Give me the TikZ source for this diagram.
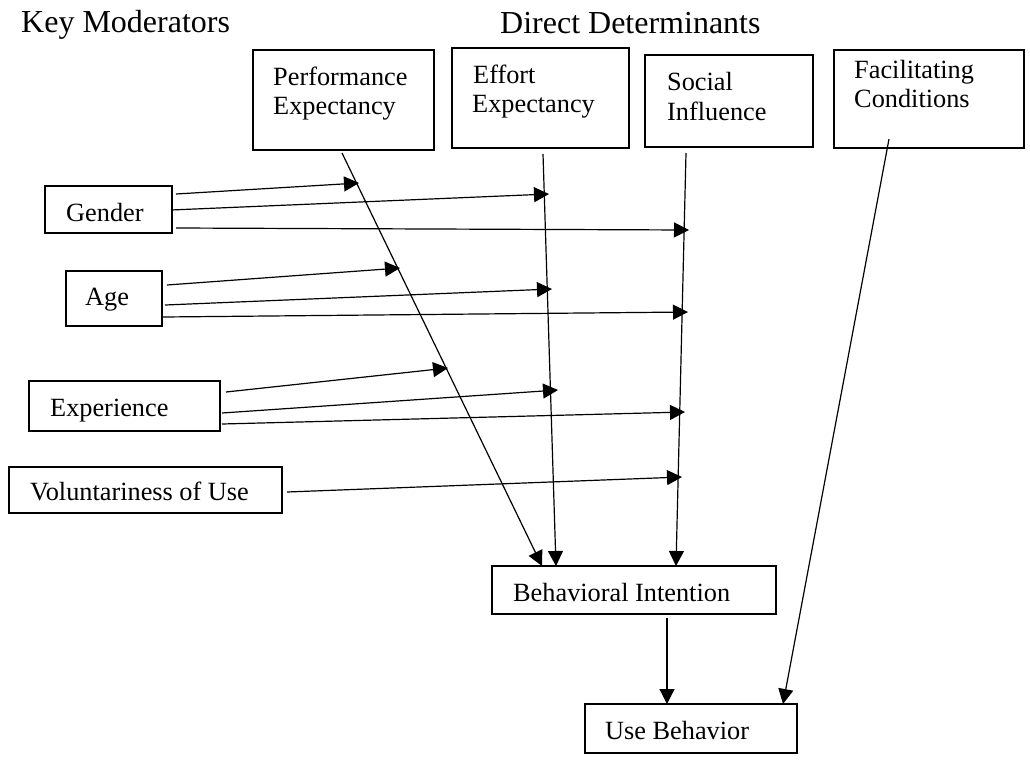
\documentclass[tikz,border=0pt]{standalone}
\usepackage{fontspec}
\setmainfont{Liberation Serif}
\usetikzlibrary{arrows.meta}
\begin{document}
\begin{tikzpicture}[x=1pt,y=-1pt,
  box/.style={draw, line width=1.2pt},
  lbl/.style={anchor=base west, inner sep=0pt, font=\fontsize{26.3}{29}\selectfont},
  ttl/.style={anchor=base west, inner sep=0pt, font=\fontsize{32}{35}\selectfont},
  conn/.style={line width=1.2pt, -{Triangle[length=15pt,width=15pt]}},
  plain/.style={line width=1.1pt}]
\useasboundingbox (0,0) rectangle (1030,761);
% titles
\node[ttl] (tkm) at (21,32) {Key Moderators};
\node[ttl] (tdd) at (500,33) {Direct Determinants};
% boxes
\draw[box] (253,50) rectangle (434,150);
\draw[box] (452,48) rectangle (629,148);
\draw[box] (645,55) rectangle (813,147);
\draw[box] (834,50) rectangle (1024,148);
\draw[box] (45,186) rectangle (172,233);
\draw[box] (66,271) rectangle (162,326);
\draw[box] (29,381) rectangle (220,431);
\draw[box] (9,467) rectangle (282,513);
\draw[box] (492,566) rectangle (776,614);
\draw[box] (585,704) rectangle (797,753);
% texts
\node[lbl] (pe1) at (273,85) {Performance};
\node[lbl] (pe2) at (273,114) {Expectancy};
\node[lbl] (ee1) at (473,83) {Effort};
\node[lbl] (ee2) at (472,112) {Expectancy};
\node[lbl] (si1) at (667,90) {Social};
\node[lbl] (si2) at (667,120) {Influence};
\node[lbl] (fc1) at (854,78) {Facilitating};
\node[lbl] (fc2) at (854,107) {Conditions};
\node[lbl] (gen) at (66,221) {Gender};
\node[lbl] (age) at (85,305) {Age};
\node[lbl] (exp) at (50,416) {Experience};
\node[lbl] (vol) at (30,500) {Voluntariness of Use};
\node[lbl] (bi) at (513,601) {Behavioral Intention};
\node[lbl] (ub) at (605,739) {Use Behavior};
% coordinates
\coordinate (peS) at (342,153); \coordinate (peE) at (542,566);
\coordinate (eeS) at (543,154); \coordinate (eeE) at (556,566);
\coordinate (siS) at (686,153); \coordinate (siE) at (676,566);
\coordinate (fcS) at (889,139); \coordinate (fcE) at (783,704);
\coordinate (biS) at (667,618); \coordinate (ubE) at (667,704);
% determinant arrows
\draw[conn] (peS) -- (peE);
\draw[conn] (eeS) -- (eeE);
\draw[conn] (siS) -- (siE);
\draw[conn] (fcS) -- (fcE);
\draw[conn] (biS) -- (ubE);
% moderator arrows
\coordinate (g1s) at (176,194); \coordinate (g1e) at (359,183);
\coordinate (g2s) at (171,210); \coordinate (g2e) at (549,194);
\coordinate (g3s) at (176,228); \coordinate (g3e) at (689,230);
\coordinate (a1s) at (167,285); \coordinate (a1e) at (400,268);
\coordinate (a2s) at (165,305); \coordinate (a2e) at (552,289);
\coordinate (a3s) at (163,317); \coordinate (a3e) at (688,312);
\coordinate (x1s) at (226,392); \coordinate (x1e) at (448,368);
\coordinate (x2s) at (222,413); \coordinate (x2e) at (558,390);
\coordinate (x3s) at (222,424); \coordinate (x3e) at (685,412);
\coordinate (v1s) at (287,492); \coordinate (v1e) at (682,477);
\foreach \a in {g1,g2,g3,a1,a2,a3,x1,x2,x3,v1}
  \draw[conn] (\a s) -- (\a e);
\end{tikzpicture}
\end{document}
